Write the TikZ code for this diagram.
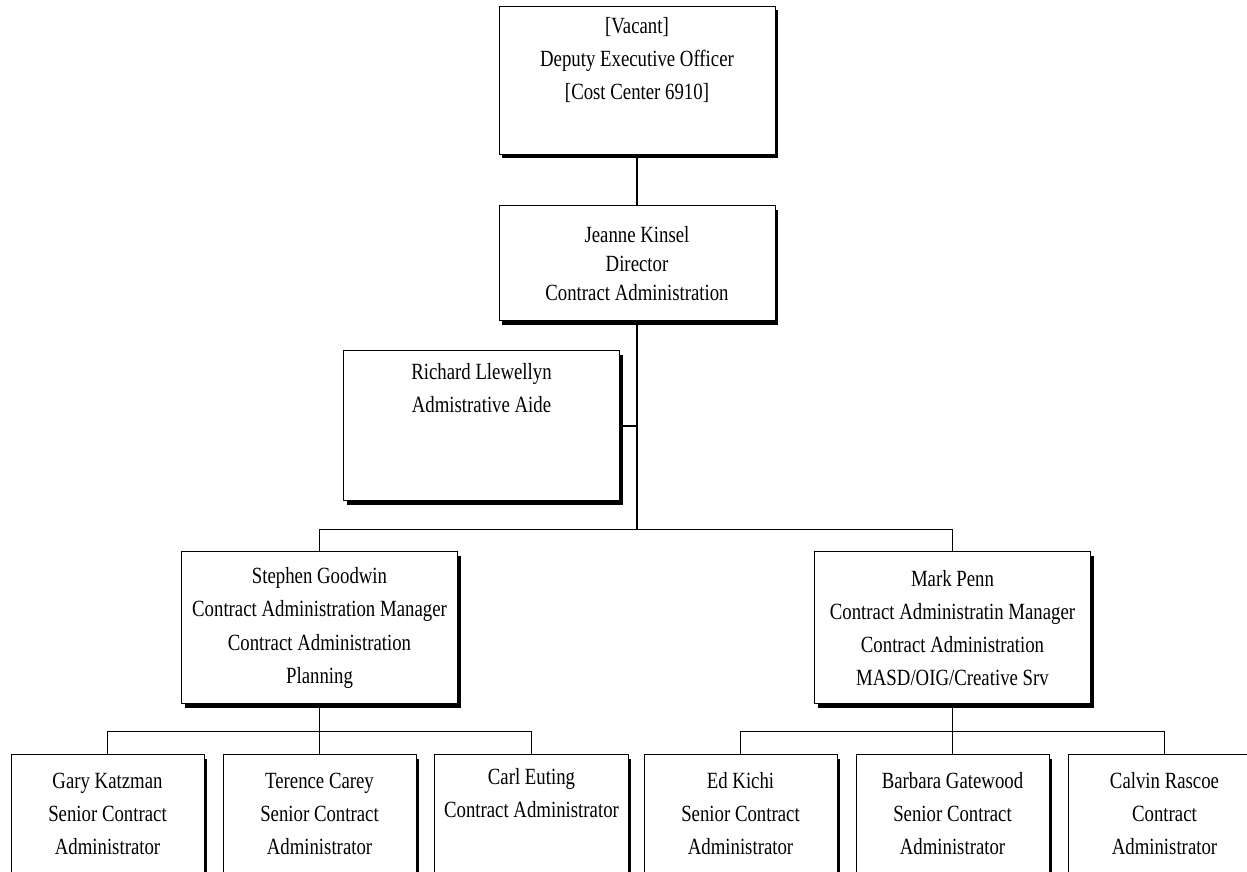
\documentclass[tikz,border=0pt]{standalone}
\usepackage{fontspec}
\setmainfont{Liberation Serif}[FakeStretch=0.81]
\usepackage{tikz}
\usetikzlibrary{positioning, shadows}

\begin{document}
\begin{tikzpicture}[
  box/.style={rectangle, draw, line width=0.7pt, fill=white, align=center, inner sep=0pt, minimum width=6.9cm, font=\fontsize{16.5pt}{23.5pt}\selectfont, drop shadow={fill=black, opacity=1, shadow xshift=2.4pt, shadow yshift=-2.9pt}},
  staff/.style={box, minimum width=4.825cm, minimum height=2.95cm},
  link/.style={line width=1.1pt},
  node distance=0.45cm
]
\useasboundingbox (0,0) rectangle (31.175,-21.8);

\node[box, minimum height=3.7cm] (vacant) at (15.925,-2.0) {[Vacant]\\Deputy Executive Officer\\{}[Cost Center 6910]\\\strut};
\node[box, minimum height=2.875cm, below=1.275cm of vacant, font=\fontsize{16.5pt}{20.8pt}\selectfont] (director) {Jeanne Kinsel\\Director\\Contract Administration};
\node[box, minimum height=3.75cm, below=0.725cm of director, xshift=-3.8875cm] (richard) {Richard Llewellyn\\Admistrative Aide\\\strut\\\strut};
\node[box, minimum height=3.8cm, below=5.75cm of director, xshift=-7.9375cm] (stephen) {Stephen Goodwin\\Contract Administration Manager\\Contract Administration\\Planning};
\node[box, minimum height=3.8cm, below=5.75cm of director, xshift=7.8875cm] (mark) {Mark Penn\\Contract Administratin Manager\\Contract Administration\\MASD/OIG/Creative Srv};

% staff under Stephen Goodwin
\node[staff, below=1.25cm of stephen] (terence) {Terence Carey\\Senior Contract\\Administrator};
\node[staff, left=of terence] (gary) {Gary Katzman\\Senior Contract\\Administrator};
\node[staff, right=of terence] (carl) {Carl Euting\\Contract Administrator\\\strut};

% staff under Mark Penn
\node[staff, below=1.25cm of mark] (barbara) {Barbara Gatewood\\Senior Contract\\Administrator};
\node[staff, left=of barbara] (ed) {Ed Kichi\\Senior Contract\\Administrator};
\node[staff, right=of barbara] (calvin) {Calvin Rascoe\\Contract\\Administrator};

\draw[link] (vacant.south) -- (director.north);
\path (director.south) ++(0,-5.2) coordinate (split);
\draw[link] (director.south) -- (split);
\draw[link] (richard.east) -- (richard.east -| director.south);
\draw[link] (stephen.north) |- (split) -| (mark.north);

\path (stephen.south) ++(0,-0.675) coordinate (lsplit);
\draw[link] (stephen.south) -- (lsplit);
\draw[link] (gary.north) |- (lsplit) -| (carl.north);
\draw[link] (lsplit) -- (terence.north);

\path (mark.south) ++(0,-0.675) coordinate (rsplit);
\draw[link] (mark.south) -- (rsplit);
\draw[link] (ed.north) |- (rsplit) -| (calvin.north);
\draw[link] (rsplit) -- (barbara.north);
\end{tikzpicture}
\end{document}
